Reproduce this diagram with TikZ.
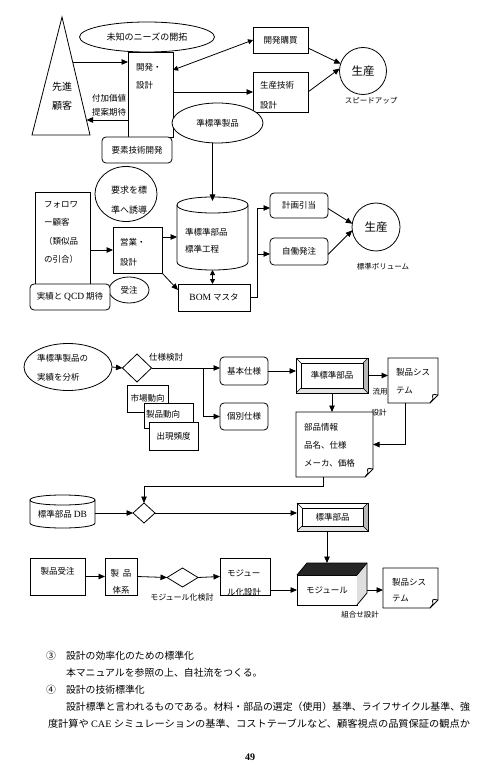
\documentclass[tikz,border=0pt]{standalone}
\usepackage{fontspec}
\usepackage{graphicx}
\setmainfont{Noto Sans CJK JP}
\newfontfamily\lat{Liberation Serif}
\usetikzlibrary{arrows.meta,shapes.geometric,calc}
\newcommand\docshape[1]{%
  \draw[ln, fill=white] (#1.north west) -- (#1.north east) -- ($(#1.south east)+(0,-8)$) -- ($(#1.south east)+(-8,0)$) -- (#1.south west) -- cycle;
  \draw[ln] ($(#1.south east)+(0,-8)$) .. controls ($(#1.south east)+(-6,-9)$) .. ($(#1.south east)+(-5,-4)$) -- ($(#1.south east)+(-8,0)$);
}
\newcommand\bevelbox[2]{%
  \fill[gray!55] (#1.north east) -- ($(#1.north east)+(-#2,#2)$) -- ($(#1.south east)+(-#2,-#2)$) -- (#1.south east) -- cycle;
  \fill[gray!20] (#1.south west) -- ($(#1.south west)+(#2,-#2)$) -- ($(#1.south east)+(-#2,-#2)$) -- (#1.south east) -- cycle;
  \draw[ln] (#1.north west) rectangle (#1.south east);
  \draw[line width=0.6pt] ($(#1.north west)+(#2,#2)$) rectangle ($(#1.south east)+(-#2,-#2)$);
  \draw[line width=0.5pt] (#1.north west) -- ++(#2,#2) (#1.north east) -- ++(-#2,#2) (#1.south west) -- ++(#2,-#2) (#1.south east) -- ++(-#2,-#2);
}
\begin{document}
\begin{tikzpicture}[x=1pt,y=-1pt,
  every node/.style={inner sep=0pt, outer sep=0pt},
  ln/.style={line width=0.8pt},
  box/.style={draw, line width=0.8pt, rectangle, fill=white, font=\fontsize{8.5}{10}\selectfont},
  rbox/.style={box, rounded corners=4pt},
  ell/.style={draw, line width=0.8pt, ellipse, fill=white, font=\fontsize{8.5}{10}\selectfont},
  dia/.style={draw, line width=0.8pt, diamond, fill=white},
  lbl/.style={font=\fontsize{8.5}{18}\selectfont, align=left},
  sml/.style={font=\fontsize{7.5}{9}\selectfont},
  body/.style={font=\fontsize{9.85}{12}\selectfont},
  arr/.style={line width=0.8pt, -{Triangle[length=6.5pt,width=5.5pt]}},
  darr/.style={line width=0.8pt, {Triangle[length=5pt,width=5pt]}-{Triangle[length=5pt,width=5pt]}},
]
\useasboundingbox (0,0) rectangle (500,775);
\fill[white] (0,0) rectangle (500,775);

% ---------------- top section
\node[ell, minimum width=135pt, minimum height=30pt, font=\fontsize{9}{11}\selectfont] (mich) at (147,37) {未知のニーズの開拓};
\draw[ln] (62,17) -- (90,135) -- (32,135) -- cycle;
\coordinate (triA) at (72.7,62);
\coordinate (triB) at (86.5,120);
\node[font=\fontsize{10}{19}\selectfont, align=center] (senk) at (62,96) {先進\\顧客};
\node[box, minimum width=45pt, minimum height=85pt] (kd) at (150.5,94.5) {};
\node[lbl, anchor=west] (kdt) at (136,76) {開発・\\設計};
\node[lbl, font=\fontsize{8.5}{14}\selectfont] (fuka) at (109,105) {付加価値\\提案期待};
\node[rbox, minimum width=70pt, minimum height=26pt] (yoso) at (137,150) {要素技術開発};
\draw[arr] (triA) -- (kd.west |- triA);
\draw[arr] (kd.west |- triB) -- (triB);

\node[box, minimum width=55pt, minimum height=26pt] (kobai) at (280.5,40) {開発購買};
\node[box, minimum width=55pt, minimum height=40pt] (seigi) at (280.5,92) {};
\node[lbl, anchor=west, font=\fontsize{8.5}{20}\selectfont] (seigit) at (260,95) {生産技術\\設計};
\node[circle, draw, ln, minimum size=47pt, font=\fontsize{11.5}{12}\selectfont] (sei1) at (363,71) {生産};
\node[sml] (speed) at (371,101) {スピードアップ};
\draw[darr] ($(kd.north east)+(0,18)$) -- (kobai.west);
\draw[arr] (kd.east |- seigi.west) -- (seigi.west);
\draw[arr] ($(kobai.east)+(0,8)$) -- (sei1.162);
\draw[arr] (seigi.east) -- (sei1.174);

\node[ell, minimum width=91pt, minimum height=40pt] (jsh) at (217.5,123) {準標準製品};

% ---------------- middle section
\node[minimum width=71pt, minimum height=73pt] (cyl) at (212.5,233.5) {};
\draw[ln, fill=white] (177,205) -- (177,262) .. controls (177,272.67) and (248,272.67) .. (248,262) -- (248,205) .. controls (248,194.33) and (177,194.33) .. cycle;
\draw[ln] (177,205) .. controls (177,215.67) and (248,215.67) .. (248,205);
\node[lbl, anchor=west, font=\fontsize{8.5}{17}\selectfont] (cylt) at (185,240.5) {準標準部品\\標準工程};
\draw[arr] (jsh.south -| cyl.north) -- ($(cyl.north)+(0,4)$);

\node[box, minimum width=55pt, minimum height=100pt] (fol) at (62.5,242) {};
\node[lbl, anchor=west, font=\fontsize{8.5}{18.3}\selectfont] (folt) at (44,232.5) {フォロワ\\ー顧客\\（類似品\\の引合）};
\node[ell, minimum width=62pt, minimum height=55pt] (yok) at (126,194) {};
\node[lbl, anchor=west, font=\fontsize{9}{20}\selectfont] (yokt) at (111,200) {要求を標\\準へ誘導};
\node[box, minimum width=49pt, minimum height=46pt] (eig) at (137.5,250) {};
\node[lbl, anchor=west, font=\fontsize{8.5}{20}\selectfont] (eigt) at (120,252) {営業・\\設計};
\draw[arr] (fol.east |- eig.west) -- (eig.west);
\coordinate (e1) at ($(eig.east)+(0,-13)$);
\draw[arr] (e1) -- (e1 -| cyl.west);

\node[box, minimum width=72pt, minimum height=27pt] (bom) at (214,297.5) {{\lat\fontsize{9.5}{10}\selectfont BOM} マスタ};
\draw[arr] (eig.south east) -- ($(bom.north west)+(0,6)$);
\draw[darr] (cyl.south) -- (cyl.south |- bom.north);

\node[ell, minimum width=40pt, minimum height=26pt] (juc) at (129,290) {受注};
\node[rbox, minimum width=80pt, minimum height=26pt] (jis) at (70,297) {実績と {\lat\fontsize{9.5}{10}\selectfont QCD} 期待};

\node[rbox, minimum width=58pt, minimum height=25pt] (kei) at (299,205.5) {計画引当};
\node[rbox, minimum width=58pt, minimum height=27pt] (jid) at (299,251.5) {自働発注};
\coordinate (b1) at (257,208);
\coordinate (b2) at (257,254);
\draw[arr] (bom.east) -| (b1) -- (b1 -| kei.west);
\draw[arr] (b2) -- (b2 -| jid.west);
\node[circle, draw, ln, minimum size=48pt, font=\fontsize{11.5}{12}\selectfont] (sei2) at (376,227) {生産};
\draw[arr] ($(kei.east)+(0,3)$) -- (sei2.172);
\draw[arr] ($(jid.east)+(0,3)$) -- (sei2.188);
\node[sml] (vol) at (383,267) {標準ボリューム};

% ---------------- lower section
\node[ell, minimum width=88pt, minimum height=47pt] (ana) at (68,367) {};
\node[lbl, anchor=west, font=\fontsize{8.5}{19}\selectfont] (anat) at (37,367.5) {準標準製品の\\実績を分析};
\node[dia, minimum width=29pt, minimum height=28pt] (d1) at (137,368) {};
\draw[arr] (ana.east) -- (d1.west);
\node[lbl, font=\fontsize{8.5}{10}\selectfont] (spec) at (166,357) {仕様検討};
\node[rbox, minimum width=48pt, minimum height=28pt] (kih) at (244,371) {基本仕様};
\node[rbox, minimum width=48pt, minimum height=27pt] (kob) at (244,416.5) {個別仕様};
\coordinate (br) at (203,368);
\draw[arr] (d1.east) -- (d1.east -| kih.west);
\draw[arr] (br) |- (kob.west);

\node[box, minimum width=41pt, minimum height=27pt] (ich) at (147.5,398.5) {市場動向};
\node[box, minimum width=49pt, minimum height=25pt] (seid) at (168.5,415.5) {};
\node[lbl, font=\fontsize{8.5}{10}\selectfont] (seidt) at (163,414) {製品動向};
\node[box, minimum width=49pt, minimum height=28pt] (shu) at (173.5,436) {出現頻度};

\node[minimum width=72pt, minimum height=35pt, font=\fontsize{8.5}{10}\selectfont] (jbu) at (332,375.5) {準標準部品};
\bevelbox{jbu}{5}
\draw[arr] (kih.east) -- (kih.east -| jbu.west);

\node[minimum width=50pt, minimum height=45pt] (ps1) at (413,380.5) {};
\docshape{ps1}
\node[lbl, anchor=west, font=\fontsize{8.5}{18}\selectfont] (ps1t) at (396,381) {製品シス\\テム};
\draw[arr] (jbu.east) -- (jbu.east -| ps1.west);
\node[sml] (ryu) at (380,392) {流用};
\node[sml] (sek) at (379,413) {設計};

\node[minimum width=77pt, minimum height=65pt] (bj) at (334.5,444.5) {};
\docshape{bj}
\node[lbl, anchor=west, font=\fontsize{8.5}{18}\selectfont] (bjt) at (304,445) {部品情報\\品名、仕様\\メーカ、価格};
\draw[arr] (jbu.south) -- (jbu.south |- bj.north);
\draw[arr] ($(ps1.south)+(-8,0)$) |- (bj.east);

\node[dia, minimum width=22pt, minimum height=20pt] (d2) at (144,513) {};
\coordinate (tn) at (144,486);
\draw[arr] ($(bj.south)+(-11,0)$) |- (tn) -- (d2.north);

\node[minimum width=65pt, minimum height=33pt] (db) at (62.5,511.5) {};
\draw[ln, fill=white] (30,500) -- (30,523) .. controls (30,529.67) and (95,529.67) .. (95,523) -- (95,500) .. controls (95,493.33) and (30,493.33) .. cycle;
\draw[ln] (30,500) .. controls (30,506.67) and (95,506.67) .. (95,500);
\node[lbl, font=\fontsize{8.5}{10}\selectfont] (dbt) at (62.5,514) {標準部品 {\lat\fontsize{9.5}{10}\selectfont DB}};
\draw[arr] (db.east |- d2.west) -- (d2.west);

\node[minimum width=71pt, minimum height=28pt, font=\fontsize{8.5}{10}\selectfont] (hbu) at (332.5,517) {標準部品};
\bevelbox{hbu}{5}
\draw[arr] (d2.east) -- (d2.east -| hbu.west);

\node[box, minimum width=55pt, minimum height=37pt] (ord) at (57.5,576.5) {};
\node[lbl, font=\fontsize{8.5}{10}\selectfont] (ordt) at (57.5,571) {製品受注};
\node[box, minimum width=32pt, minimum height=37pt] (tai) at (121,576.5) {};
\node[lbl, align=center, font=\fontsize{8.5}{17}\selectfont] (tait) at (121,581.5) {製\hspace{4pt}品\\体系};
\draw[arr] (ord.east) -- (tai.west);
\node[dia, minimum width=31pt, minimum height=19pt] (d3) at (182.5,577.5) {};
\draw[arr] (tai.east) -- (d3.west);
\node[font=\fontsize{8}{9}\selectfont] (modk) at (182,597) {モジュール化検討};
\node[box, minimum width=50pt, minimum height=37pt] (mdd) at (245,576.5) {};
\node[lbl, anchor=west, font=\fontsize{8.5}{19}\selectfont] (mddt) at (227,582.5) {モジュー\\ル化設計};
\draw[arr] (d3.east) -- (mdd.west);

\node[draw, ln, fill=white, minimum width=60pt, minimum height=30pt, font=\fontsize{8.5}{10}\selectfont] (mod) at (327,590) {モジュール};
\fill[black!85] (mod.north west) -- (mod.north east) -- ++(10,-12) -- ($(mod.north west)+(10,-12)$) -- cycle;
\fill[gray!25] (mod.north east) -- ($(mod.north east)+(10,-12)$) -- ($(mod.south east)+(10,-12)$) -- (mod.south east) -- cycle;
\draw[ln, line join=round] (mod.north west) -- ($(mod.north west)+(10,-12)$) -- ($(mod.north east)+(10,-12)$) -- ($(mod.south east)+(10,-12)$) -- (mod.south east);
\draw[ln] (mod.north east) -- ($(mod.north east)+(10,-12)$);
\coordinate (mt) at ($(mod.north)+(0,-12)$);
\draw[arr] (hbu.south -| mt) -- (mt);
\draw[arr] (mdd.east |- mod.west) -- (mod.west);

\node[minimum width=55pt, minimum height=40pt] (ps2) at (410.5,588) {};
\docshape{ps2}
\node[lbl, anchor=west, font=\fontsize{8.5}{16}\selectfont] (ps2t) at (392,590) {製品シス\\テム};
\coordinate (mr) at ($(mod.east)+(10,0)$);
\draw[arr] (mr) -- (mr -| ps2.west);
\node[sml] (kumi) at (360,615) {組合せ設計};

% ---------------- text
\node[body, anchor=west] (p3) at (46,656) {③};
\node[body, anchor=west] (p3t) at (66,656) {設計の効率化のための標準化};
\node[body, anchor=west] (p3b) at (66,673) {本マニュアルを参照の上、自社流をつくる。};
\node[body, anchor=west] (p4) at (46,690) {④};
\node[body, anchor=west] (p4t) at (66,690) {設計の技術標準化};
\node[body, anchor=west] (l1) at (66,707) {\resizebox{404pt}{\height}{設計標準と言われるものである。材料・部品の選定（使用）基準、ライフサイクル基準、強}};
\node[body, anchor=west] (l2) at (48,724) {\resizebox{422pt}{\height}{度計算や {\lat CAE} シミュレーションの基準、コストテーブルなど、顧客視点の品質保証の観点か}};
\node[font=\lat\bfseries\fontsize{10}{12}\selectfont] (pg) at (250,757) {49};
\end{tikzpicture}
\end{document}
